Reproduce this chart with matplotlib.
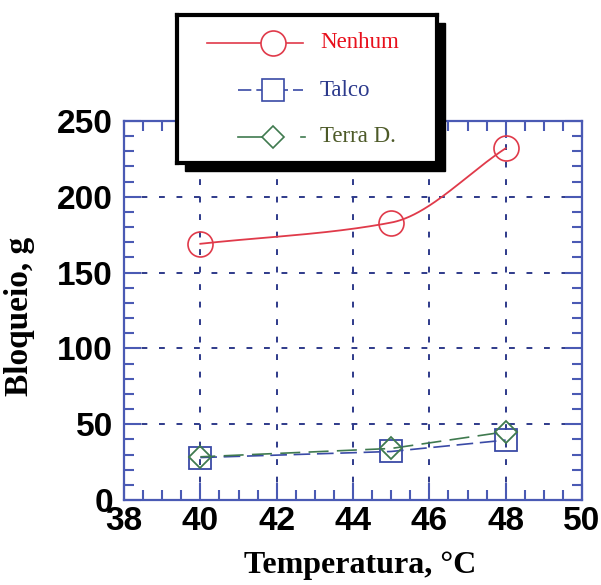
import numpy as np
import matplotlib.pyplot as plt
from matplotlib.patches import Rectangle
from matplotlib.ticker import MultipleLocator

# dados
temperatura = [40, 45, 48]
nenhum = [169, 183, 232]
talco = [28, 32, 39.5]
terra_d = [28.5, 34, 45]

series = ["Nenhum", "Talco", "Terra D."]
cor_linha = ["#e03a4a", "#3a4aa6", "#3f7a4f"]
cor_texto = ["#e8101c", "#2c3a8c", "#4d5a28"]


def curva_suave(x, y, n=100):
    # hermite monotona so para desenhar a linha
    x = np.asarray(x, float)
    y = np.asarray(y, float)
    d = np.diff(y) / np.diff(x)
    m = np.zeros_like(y)
    m[0], m[-1] = d[0], d[-1]
    for i in range(1, len(x) - 1):
        m[i] = 2 / (1 / d[i - 1] + 1 / d[i])
    xs, ys = [], []
    for i in range(len(x) - 1):
        h = x[i + 1] - x[i]
        t = np.linspace(0, 1, n)
        h00 = 2 * t**3 - 3 * t**2 + 1
        h10 = t**3 - 2 * t**2 + t
        h01 = -2 * t**3 + 3 * t**2
        h11 = t**3 - t**2
        xs.append(x[i] + t * h)
        ys.append(h00 * y[i] + h10 * h * m[i] + h01 * y[i + 1] + h11 * h * m[i + 1])
    return np.concatenate(xs), np.concatenate(ys)


fig = plt.figure(figsize=(6.01, 5.85), dpi=100)
ax = fig.add_axes([124 / 601, 1 - 500 / 585, 458 / 601, 379 / 585])

xs, ys = curva_suave(temperatura, nenhum)
ax.plot(xs, ys, color=cor_linha[0], lw=1.3, zorder=3)
ax.plot(temperatura, nenhum, "o", ms=18, mfc="none", mec=cor_linha[0], mew=1.2, zorder=4)

ax.plot(temperatura, talco, color=cor_linha[1], lw=1.2, ls=(0, (10, 4)), zorder=3)
ax.plot(temperatura, talco, "s", ms=16, mfc="none", mec=cor_linha[1], mew=1.3, zorder=4)

ax.plot(temperatura, terra_d, color=cor_linha[2], lw=1.2, ls=(3, (12, 5)), zorder=3)
ax.plot(temperatura, terra_d, "D", ms=11, mfc="none", mec=cor_linha[2], mew=1.3, zorder=4)

ax.set_xlim(38, 50)
ax.set_ylim(0, 250)
ax.xaxis.set_major_locator(MultipleLocator(2))
ax.xaxis.set_minor_locator(MultipleLocator(0.5))
ax.yaxis.set_major_locator(MultipleLocator(50))
ax.yaxis.set_minor_locator(MultipleLocator(10))

azul = "#4a5ab4"
for s in ax.spines.values():
    s.set_color(azul)
    s.set_linewidth(1.6)
ax.tick_params(which="both", direction="in", top=True, right=True, color=azul, width=1.5)
ax.tick_params(which="major", length=12, labelsize=24)
ax.tick_params(axis="x", which="major", pad=4)
ax.tick_params(axis="y", which="major", pad=8)
ax.tick_params(which="minor", length=7)
for lab in ax.get_xticklabels() + ax.get_yticklabels():
    lab.set_fontfamily("Liberation Sans")
    lab.set_fontweight("bold")
ax.grid(True, which="major", color="#2e3a8a", ls=(0, (3, 6)), lw=1.4)

ax.set_xlabel("Temperatura, °C", fontfamily="Liberation Serif", fontweight="bold",
              fontsize=23)
ax.set_ylabel("Bloqueio, g", fontfamily="Liberation Serif", fontweight="bold",
              fontsize=24)
ax.xaxis.set_label_coords(0.515, -0.135)
ax.yaxis.set_label_coords(-0.194, 0.485)

# legenda desenhada a parte, com sombra preta
fig.patches.append(Rectangle((185 / 601, 1 - 171 / 585), 260 / 601, 148 / 585,
                             transform=fig.transFigure, color="black", zorder=5))
leg = fig.add_axes([177 / 601, 1 - 163 / 585, 260 / 601, 148 / 585], zorder=6)
leg.set_xlim(0, 260)
leg.set_ylim(148, 0)
leg.set_xticks([])
leg.set_yticks([])
for s in leg.spines.values():
    s.set_linewidth(3)
    s.set_color("black")

linhas_y = [28, 75, 122]
leg.plot([30, 126], [28, 28], color=cor_linha[0], lw=1.2)
leg.plot([96], [28], "o", ms=18, mfc="white", mec=cor_linha[0], mew=1.2)
leg.plot([61, 126], [75, 75], color=cor_linha[1], lw=1.2, ls=(0, (8, 3)))
leg.plot([96], [75], "s", ms=16, mfc="white", mec=cor_linha[1], mew=1.2)
leg.plot([61, 90], [122, 122], color=cor_linha[2], lw=1.2)
leg.plot([124, 128], [122, 122], color=cor_linha[2], lw=1.2)
leg.plot([96], [122], "D", ms=11, mfc="white", mec=cor_linha[2], mew=1.2)
for nome, cor, yy in zip(series, cor_texto, linhas_y):
    leg.text(143, yy, nome, color=cor, fontfamily="Liberation Serif", fontsize=16.5,
             va="center", ha="left")

fig.savefig("out.png", dpi=100)
